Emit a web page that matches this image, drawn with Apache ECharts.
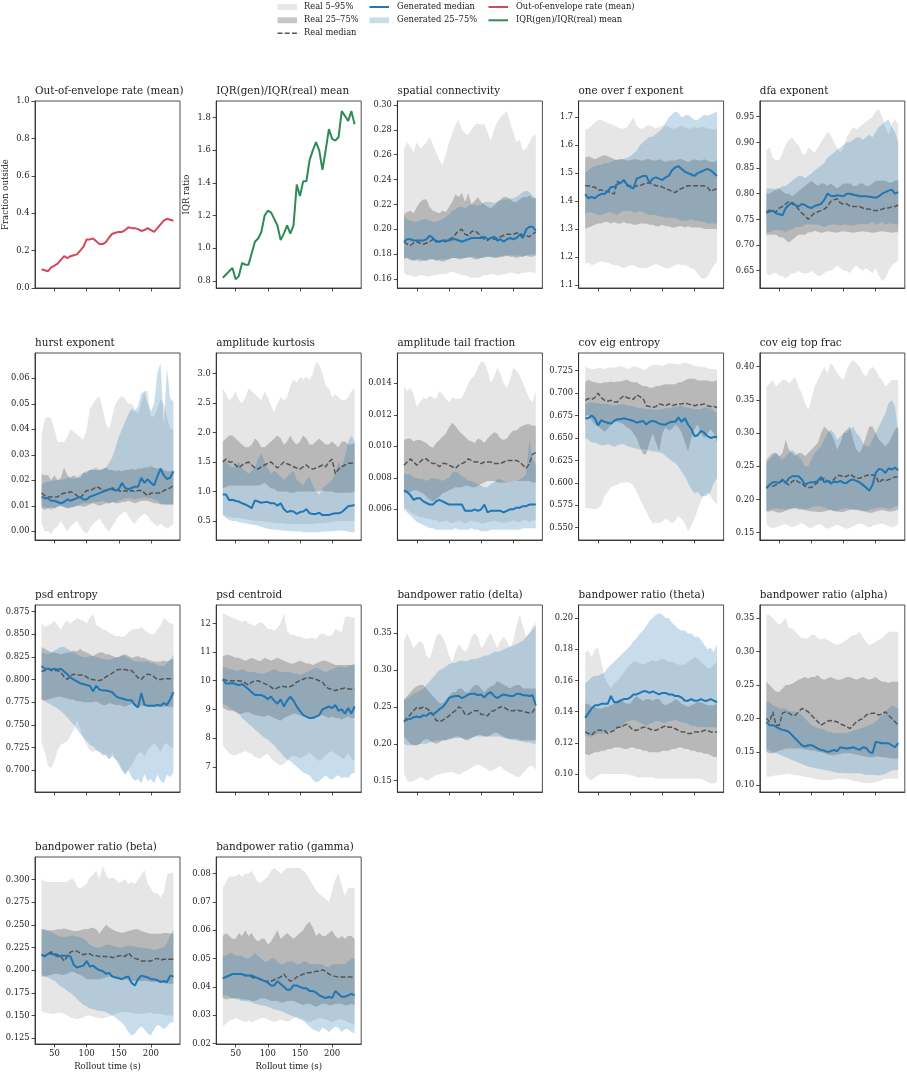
<!DOCTYPE html>
<html><head><meta charset="utf-8">
<script src="https://cdn.jsdelivr.net/npm/echarts@6/dist/echarts.min.js"></script>
<style>html,body{margin:0;padding:0;background:#fff}#c{width:907px;height:1074px}</style>
</head><body><div id="c"></div>
<script>
const times = [30,35,40,45,50,55,60, 65,70,75,80,85,90,95, 100,105,110,115,120,125,130, 135,140,145,150,155,160,165, 170,175,180,185,190,195,200, 205,210,215,220,225,230,235];
const xTicks = [50,100,150,200];

const outRate = [0.100,0.095,0.090,0.110,0.120,0.130,0.150, 0.170,0.160,0.170,0.175,0.180,0.200,0.220, 0.260,0.260,0.265,0.250,0.235,0.235,0.245, 0.270,0.290,0.295,0.300,0.300,0.310,0.325, 0.320,0.320,0.315,0.305,0.310,0.320,0.310, 0.300,0.320,0.340,0.360,0.370,0.365,0.360];
const iqrRatio = [0.82,0.84,0.86,0.88,0.81,0.83,0.91, 0.90,0.90,0.97,1.04,1.06,1.10,1.20, 1.23,1.22,1.18,1.14,1.05,1.09,1.14, 1.09,1.14,1.39,1.32,1.41,1.41,1.54, 1.60,1.65,1.60,1.48,1.60,1.73,1.67, 1.66,1.68,1.84,1.81,1.78,1.84,1.76];

// spatial connectivity
const sc_r05 = [.165,.163,.163,.162,.162,.163,.163, .162,.162,.163,.163,.164,.164,.164, .165,.166,.165,.164,.163,.163,.162, .161,.161,.161,.162,.163,.163,.164, .164,.163,.163,.164,.164,.165,.165, .164,.164,.165,.165,.166,.165,.165];
const sc_r25 = [.177,.177,.176,.175,.176,.176,.175, .175,.176,.176,.175,.175,.174,.175, .176,.177,.177,.176,.176,.177,.178, .177,.176,.176,.177,.178,.178,.178, .177,.177,.178,.178,.179,.178,.178, .177,.178,.178,.179,.178,.178,.179];
const sc_r50 = [.190,.188,.187,.189,.190,.189,.188, .189,.190,.192,.191,.190,.191,.190, .192,.193,.196,.199,.200,.196,.195, .198,.199,.197,.194,.192,.191,.193, .192,.193,.194,.195,.196,.196,.196, .197,.197,.195,.195,.194,.196,.198];
const sc_r75 = [.212,.214,.215,.213,.218,.222,.224, .224,.218,.215,.214,.213,.215,.214, .218,.222,.228,.226,.229,.222,.229, .220,.223,.226,.222,.220,.218,.217, .219,.222,.224,.226,.226,.224,.222, .222,.224,.226,.226,.227,.225,.225];
const sc_r95 = [.265,.270,.266,.262,.270,.265,.267, .270,.274,.268,.262,.256,.252,.260, .270,.277,.284,.288,.280,.277,.276, .280,.284,.285,.284,.285,.278,.271, .280,.286,.290,.293,.295,.286,.278, .270,.272,.263,.265,.270,.275,.276];
const sc_g25 = [.176,.177,.175,.175,.175,.174,.175, .175,.176,.176,.175,.176,.176,.176, .176,.177,.177,.177,.177,.177,.177, .178,.178,.177,.177,.177,.178,.178, .178,.178,.178,.179,.179,.179,.179, .179,.179,.178,.179,.180,.180,.180];
const sc_g50 = [.190,.192,.192,.191,.191,.191,.191, .192,.195,.193,.190,.190,.191,.191, .191,.192,.192,.191,.190,.191,.192, .193,.193,.193,.193,.194,.192,.193, .194,.191,.192,.190,.192,.193,.192, .193,.196,.193,.200,.202,.202,.199];
const sc_g75 = [.210,.208,.207,.206,.206,.207,.208, .208,.207,.206,.206,.207,.208,.210, .212,.215,.216,.218,.218,.217,.219, .220,.220,.219,.220,.222,.222,.222, .221,.222,.223,.224,.224,.225,.225, .226,.228,.230,.231,.230,.227,.225];

// one over f exponent
const of_r05 = [1.175,1.18,1.17,1.175,1.18,1.185,1.18, 1.18,1.175,1.17,1.17,1.165,1.16,1.165, 1.17,1.17,1.165,1.16,1.16,1.16,1.165, 1.17,1.175,1.17,1.165,1.16,1.16,1.165, 1.17,1.175,1.17,1.17,1.165,1.16,1.155, 1.14,1.125,1.12,1.13,1.15,1.17,1.18];
const of_r25 = [1.30,1.305,1.31,1.315,1.32,1.32,1.325, 1.325,1.32,1.325,1.32,1.32,1.325,1.32, 1.32,1.315,1.315,1.32,1.32,1.32,1.315, 1.315,1.31,1.31,1.315,1.31,1.31,1.305, 1.305,1.31,1.31,1.305,1.31,1.305,1.305, 1.305,1.305,1.30,1.30,1.30,1.30,1.30];
const of_r50 = [1.455,1.455,1.45,1.45,1.44,1.44,1.435, 1.435,1.43,1.425,1.47,1.465,1.475,1.455, 1.455,1.45,1.455,1.455,1.46,1.465,1.465, 1.46,1.455,1.455,1.45,1.445,1.44,1.435, 1.43,1.44,1.445,1.45,1.455,1.455,1.455, 1.455,1.455,1.455,1.45,1.435,1.44,1.445];
const of_r75 = [1.555,1.56,1.555,1.55,1.555,1.56,1.565, 1.56,1.555,1.55,1.545,1.55,1.55,1.545, 1.545,1.55,1.55,1.545,1.545,1.55,1.55, 1.545,1.545,1.55,1.545,1.54,1.545,1.545, 1.545,1.55,1.55,1.545,1.54,1.545,1.55, 1.545,1.545,1.55,1.545,1.54,1.54,1.545];
const of_r95 = [1.655,1.66,1.67,1.68,1.69,1.69,1.685, 1.68,1.675,1.67,1.665,1.66,1.66,1.665, 1.68,1.70,1.67,1.66,1.66,1.67,1.67, 1.665,1.66,1.665,1.67,1.67,1.665,1.66, 1.66,1.665,1.67,1.665,1.66,1.66,1.665, 1.66,1.665,1.665,1.66,1.66,1.655,1.66];
const of_g25 = [1.355,1.36,1.36,1.355,1.35,1.35,1.355, 1.36,1.36,1.355,1.35,1.36,1.365,1.365, 1.365,1.36,1.36,1.365,1.36,1.355,1.35, 1.35,1.35,1.345,1.345,1.34,1.34,1.34, 1.34,1.335,1.33,1.33,1.33,1.335,1.33, 1.33,1.325,1.325,1.32,1.32,1.32,1.32];
const of_g50 = [1.425,1.41,1.415,1.41,1.42,1.425,1.425, 1.435,1.45,1.45,1.46,1.465,1.475,1.46, 1.45,1.445,1.48,1.485,1.49,1.49,1.465, 1.48,1.485,1.48,1.475,1.485,1.49,1.51, 1.52,1.525,1.515,1.505,1.50,1.495,1.49, 1.50,1.505,1.51,1.515,1.51,1.50,1.49];
const of_g75 = [1.50,1.51,1.52,1.525,1.53,1.53,1.535, 1.535,1.54,1.545,1.55,1.55,1.55,1.555, 1.56,1.57,1.58,1.60,1.61,1.62,1.63, 1.63,1.64,1.65,1.66,1.68,1.70,1.71, 1.72,1.715,1.70,1.705,1.71,1.70,1.69, 1.69,1.70,1.71,1.705,1.71,1.715,1.72];

// dfa exponent
const dfa_r05 = [0.645,0.640,0.645,0.645,0.640,0.640,0.635, 0.640,0.645,0.645,0.650,0.645,0.645,0.645, 0.650,0.645,0.640,0.640,0.645,0.650,0.650, 0.655,0.660,0.655,0.650,0.650,0.645,0.655, 0.660,0.655,0.650,0.655,0.650,0.645,0.655, 0.640,0.630,0.635,0.650,0.660,0.665,0.670];
const dfa_r25 = [0.720,0.720,0.720,0.720,0.715,0.715,0.710, 0.705,0.710,0.715,0.720,0.720,0.720,0.725, 0.725,0.728,0.726,0.724,0.725,0.727,0.726, 0.725,0.724,0.726,0.727,0.726,0.725,0.724, 0.725,0.726,0.727,0.726,0.725,0.724,0.725, 0.726,0.727,0.726,0.725,0.724,0.725,0.725];
const dfa_r50 = [0.765,0.768,0.765,0.765,0.772,0.775,0.780, 0.785,0.780,0.777,0.770,0.762,0.757,0.750, 0.757,0.762,0.765,0.767,0.770,0.775,0.785, 0.788,0.790,0.782,0.780,0.780,0.776,0.775, 0.775,0.775,0.772,0.770,0.770,0.768,0.767, 0.768,0.770,0.772,0.772,0.775,0.775,0.778];
const dfa_r75 = [0.800,0.800,0.805,0.810,0.810,0.805,0.800, 0.800,0.795,0.800,0.805,0.810,0.815,0.820, 0.825,0.820,0.815,0.820,0.820,0.815,0.820, 0.815,0.810,0.815,0.820,0.820,0.820,0.815, 0.815,0.820,0.820,0.815,0.815,0.820,0.825, 0.825,0.825,0.825,0.822,0.822,0.825,0.826];
const dfa_r95 = [0.885,0.890,0.870,0.865,0.865,0.880,0.895, 0.905,0.910,0.900,0.895,0.880,0.875,0.890, 0.885,0.880,0.890,0.900,0.910,0.920,0.915, 0.900,0.890,0.880,0.890,0.910,0.920,0.930, 0.925,0.930,0.935,0.940,0.945,0.950,0.960, 0.965,0.950,0.930,0.915,0.935,0.945,0.935];
const dfa_g25 = [0.725,0.725,0.728,0.730,0.730,0.728,0.725, 0.730,0.730,0.735,0.735,0.735,0.740,0.740, 0.740,0.740,0.740,0.738,0.735,0.738,0.740, 0.740,0.740,0.738,0.740,0.740,0.738,0.738, 0.740,0.740,0.742,0.740,0.742,0.745,0.740, 0.742,0.745,0.740,0.742,0.742,0.740,0.740];
const dfa_g50 = [0.763,0.765,0.767,0.762,0.760,0.758,0.772, 0.778,0.783,0.778,0.775,0.780,0.778,0.774, 0.772,0.776,0.778,0.780,0.788,0.800,0.796, 0.795,0.797,0.796,0.795,0.800,0.800,0.798, 0.797,0.795,0.795,0.795,0.794,0.793,0.792, 0.795,0.800,0.803,0.806,0.808,0.800,0.803];
const dfa_g75 = [0.810,0.810,0.810,0.805,0.810,0.815,0.815, 0.820,0.825,0.830,0.835,0.835,0.830,0.835, 0.840,0.845,0.850,0.855,0.860,0.870,0.875, 0.880,0.885,0.890,0.895,0.900,0.900,0.905, 0.910,0.910,0.905,0.910,0.915,0.910,0.920, 0.930,0.935,0.940,0.945,0.930,0.920,0.900];

// hurst exponent
const hu_r05 = [0.003,0.000,0.000,-0.001,0.001,0.002,0.004, 0.002,0.000,0.002,0.003,0.004,0.002,0.000, -0.001,0.001,0.003,0.004,0.005,0.003,0.001, 0.000,0.002,0.004,0.006,0.007,0.008,0.006, 0.004,0.003,0.005,0.006,0.007,0.006,0.004, 0.003,0.002,0.003,0.002,0.001,0.002,0.003];
const hu_r25 = [0.009,0.0085,0.009,0.0095,0.009,0.0095,0.010, 0.0095,0.009,0.0095,0.0095,0.010,0.010,0.0095, 0.010,0.0105,0.011,0.0105,0.010,0.0105,0.011, 0.011,0.0115,0.011,0.011,0.0115,0.0115,0.012, 0.0115,0.011,0.0115,0.012,0.012,0.012,0.0115, 0.011,0.011,0.0105,0.0105,0.0105,0.0105,0.0105];
const hu_r50 = [0.015,0.014,0.0135,0.0135,0.0135,0.0135,0.0145, 0.015,0.015,0.0155,0.015,0.014,0.013,0.0145, 0.016,0.016,0.0165,0.0175,0.017,0.016,0.016, 0.016,0.017,0.0165,0.016,0.0155,0.016,0.0155, 0.016,0.0155,0.016,0.016,0.015,0.014,0.015, 0.015,0.015,0.015,0.016,0.0165,0.017,0.018];
const hu_r75 = [0.0225,0.022,0.022,0.020,0.022,0.020,0.021, 0.025,0.022,0.021,0.022,0.021,0.021,0.023, 0.023,0.024,0.024,0.024,0.024,0.0245,0.025, 0.024,0.024,0.0235,0.024,0.0235,0.024,0.024, 0.0245,0.024,0.0245,0.0245,0.025,0.025,0.0255, 0.025,0.0245,0.025,0.024,0.0235,0.0235,0.024];
const hu_r95 = [0.038,0.044,0.045,0.044,0.040,0.035,0.035, 0.035,0.037,0.040,0.039,0.038,0.037,0.036, 0.040,0.048,0.050,0.052,0.053,0.048,0.042, 0.040,0.045,0.050,0.052,0.053,0.052,0.050, 0.050,0.048,0.046,0.050,0.055,0.055,0.045, 0.045,0.048,0.052,0.050,0.045,0.040,0.040];
const hu_g25 = [0.010,0.0095,0.009,0.0085,0.009,0.010,0.010, 0.0095,0.009,0.009,0.0095,0.010,0.0105,0.011, 0.011,0.011,0.0115,0.0115,0.0115,0.012,0.0115, 0.011,0.0115,0.0115,0.012,0.0125,0.013,0.013, 0.013,0.0125,0.013,0.013,0.0135,0.013,0.013, 0.0125,0.012,0.011,0.0105,0.0105,0.0105,0.0105];
const hu_g50 = [0.0135,0.013,0.013,0.012,0.012,0.0115,0.011, 0.0115,0.0125,0.012,0.0125,0.013,0.0135,0.0125, 0.0125,0.0135,0.014,0.0145,0.015,0.0155,0.016, 0.0165,0.0165,0.016,0.0165,0.019,0.017,0.0165, 0.017,0.0175,0.0175,0.021,0.019,0.0205,0.019, 0.018,0.0215,0.0245,0.022,0.0205,0.021,0.0235];
const hu_g75 = [0.0185,0.019,0.0195,0.0195,0.020,0.020,0.020, 0.0205,0.021,0.021,0.0205,0.021,0.022,0.023, 0.0235,0.024,0.0245,0.025,0.024,0.024,0.025, 0.027,0.029,0.033,0.037,0.040,0.043,0.046, 0.048,0.047,0.049,0.054,0.055,0.050,0.047, 0.050,0.062,0.066,0.042,0.064,0.052,0.051];

// amplitude kurtosis
const ak_r05 = [0.60,0.58,0.57,0.56,0.55,0.55,0.54, 0.53,0.52,0.52,0.50,0.50,0.50,0.49, 0.48,0.48,0.47,0.46,0.46,0.46,0.45, 0.45,0.45,0.45,0.45,0.45,0.45,0.45, 0.45,0.46,0.46,0.46,0.47,0.48,0.48, 0.49,0.50,0.50,0.50,0.50,0.50,0.50];
const ak_r25 = [1.05,1.08,1.10,1.10,1.10,1.10,1.10, 1.10,1.10,1.10,1.10,1.10,1.12,1.15, 1.10,1.05,1.05,1.00,1.00,1.00,1.00, 0.98,0.98,1.00,1.00,1.00,1.00,1.00, 1.00,1.00,1.00,1.02,1.00,1.00,1.00, 0.98,0.98,0.98,0.98,0.98,0.98,1.00];
const ak_r50 = [1.50,1.55,1.50,1.50,1.45,1.40,1.45, 1.48,1.50,1.45,1.40,1.38,1.42,1.45, 1.48,1.50,1.45,1.40,1.45,1.50,1.47, 1.45,1.42,1.40,1.38,1.42,1.45,1.40, 1.38,1.40,1.42,1.45,1.42,1.50,1.55, 1.30,1.38,1.42,1.45,1.48,1.48,1.48];
const ak_r75 = [1.85,1.90,1.95,1.95,1.90,1.85,1.80, 1.75,1.75,1.80,1.90,1.85,1.75,1.75, 1.80,1.85,1.90,1.95,1.90,1.80,1.85, 1.95,1.85,1.80,1.85,1.95,1.90,1.80, 1.80,1.85,1.90,1.85,1.80,1.80,1.85, 1.80,1.75,1.85,1.85,1.80,1.80,1.82];
const ak_r95 = [2.75,2.65,2.55,2.60,2.70,2.55,2.50, 2.60,2.75,2.70,2.65,2.60,2.55,2.70, 2.60,2.45,2.35,2.50,2.60,2.55,2.60, 2.80,2.90,2.85,2.95,2.90,2.95,2.90, 3.00,3.20,3.15,3.00,2.80,2.75,2.60, 2.65,2.60,2.55,2.55,2.60,2.70,2.75];
const ak_g25 = [0.60,0.55,0.52,0.50,0.50,0.48,0.47, 0.46,0.45,0.44,0.43,0.42,0.40,0.38, 0.37,0.36,0.35,0.35,0.34,0.34,0.33, 0.33,0.32,0.32,0.32,0.31,0.31,0.31, 0.31,0.31,0.31,0.32,0.32,0.32,0.33, 0.33,0.34,0.34,0.33,0.32,0.31,0.31];
const ak_g50 = [0.95,0.95,0.85,0.86,0.84,0.83,0.80, 0.78,0.75,0.72,0.85,0.83,0.81,0.82, 0.82,0.80,0.80,0.76,0.80,0.70,0.65, 0.67,0.66,0.62,0.65,0.66,0.70,0.63, 0.62,0.62,0.64,0.60,0.60,0.60,0.62, 0.63,0.63,0.65,0.70,0.75,0.76,0.77];
const ak_g75 = [1.55,1.50,1.45,1.40,1.45,1.50,1.40, 1.35,1.30,1.35,1.40,1.55,1.65,1.50, 1.40,1.30,1.35,1.30,1.25,1.20,1.25, 1.30,1.35,1.20,1.15,1.10,1.20,1.25, 1.10,1.00,0.95,1.05,1.10,1.15,1.20, 1.30,1.50,1.40,1.60,1.85,1.95,1.85];

// amplitude tail fraction
const at_r05 = [0.0061,0.0060,0.0058,0.0057,0.0056,0.0055,0.0055, 0.0054,0.0054,0.0053,0.0053,0.0052,0.0052,0.0053, 0.0052,0.0051,0.0052,0.0053,0.0052,0.0051,0.0052, 0.0053,0.0052,0.0052,0.0051,0.0051,0.0052,0.0052, 0.0053,0.0052,0.0052,0.0051,0.0052,0.0052,0.0053, 0.0052,0.0052,0.0053,0.0053,0.0052,0.0053,0.0053];
const at_r25 = [0.0070,0.0070,0.0071,0.0072,0.0072,0.0071,0.0070, 0.0068,0.0066,0.0065,0.0066,0.0068,0.0070,0.0071, 0.0072,0.0073,0.0074,0.0074,0.0074,0.0075,0.0075, 0.0074,0.0074,0.0075,0.0076,0.0077,0.0078,0.0078, 0.0078,0.0077,0.0077,0.0077,0.0077,0.0077,0.0078, 0.0078,0.0078,0.0078,0.0078,0.0078,0.0077,0.0077];
const at_r50 = [0.0088,0.0090,0.0092,0.0090,0.0088,0.0090,0.0092, 0.0092,0.0090,0.0089,0.0089,0.0087,0.0089,0.0089, 0.0088,0.0087,0.0086,0.0088,0.0089,0.0090,0.0092, 0.0091,0.0090,0.0090,0.0089,0.0090,0.0090,0.0090, 0.0089,0.0089,0.0089,0.0090,0.0091,0.0091,0.0091, 0.0091,0.0090,0.0088,0.0086,0.0089,0.0095,0.0096];
const at_r75 = [0.0104,0.0105,0.0105,0.0103,0.0104,0.0104,0.0103, 0.0102,0.0100,0.0099,0.0102,0.0104,0.0106,0.0108, 0.0112,0.0115,0.0113,0.0110,0.0108,0.0106,0.0104, 0.0103,0.0102,0.0105,0.0104,0.0102,0.0105,0.0107, 0.0109,0.0108,0.0105,0.0104,0.0105,0.0108,0.0110, 0.0110,0.0112,0.0113,0.0114,0.0114,0.0113,0.0113];
const at_r95 = [0.0138,0.0135,0.0137,0.0133,0.0125,0.0128,0.0131, 0.0130,0.0132,0.0131,0.0130,0.0135,0.0133,0.0130, 0.0128,0.0131,0.0130,0.0130,0.0131,0.0135,0.0140, 0.0143,0.0145,0.0150,0.0154,0.0153,0.0148,0.0140, 0.0144,0.0150,0.0146,0.0140,0.0137,0.0142,0.0150, 0.0148,0.0145,0.0140,0.0135,0.0130,0.0128,0.0135];
const at_g25 = [0.0060,0.0058,0.0056,0.0054,0.0052,0.0051,0.0050, 0.0049,0.0048,0.0048,0.0047,0.0047,0.0047,0.0047, 0.0047,0.0047,0.0048,0.0047,0.0047,0.0047,0.0047, 0.0048,0.0047,0.0047,0.0046,0.0046,0.0046,0.0047, 0.0047,0.0047,0.0047,0.0047,0.0047,0.0047,0.0047, 0.0047,0.0047,0.0048,0.0048,0.0048,0.0048,0.0048];
const at_g50 = [0.0072,0.0071,0.0069,0.0066,0.0067,0.0067,0.0065, 0.0064,0.0063,0.0063,0.0065,0.0066,0.0065,0.0064, 0.0063,0.0063,0.0063,0.0063,0.0063,0.0059,0.0059, 0.0059,0.0060,0.0059,0.0060,0.0063,0.0058,0.0059, 0.0059,0.0059,0.0059,0.0058,0.0059,0.0060,0.0060, 0.0061,0.0061,0.0062,0.0062,0.0063,0.0063,0.0063];
const at_g75 = [0.0083,0.0082,0.0082,0.0080,0.0080,0.0079,0.0079, 0.0078,0.0079,0.0080,0.0079,0.0079,0.0078,0.0079, 0.0080,0.0083,0.0084,0.0083,0.0081,0.0080,0.0078, 0.0078,0.0077,0.0076,0.0075,0.0074,0.0074,0.0076, 0.0077,0.0079,0.0079,0.0078,0.0077,0.0077,0.0078, 0.0078,0.0079,0.0080,0.0082,0.0104,0.0092,0.0088];

// cov eig entropy
const ce_r05 = [0.572,0.572,0.571,0.570,0.572,0.575,0.585, 0.590,0.595,0.597,0.598,0.600,0.600,0.601, 0.600,0.597,0.590,0.582,0.575,0.568,0.560, 0.555,0.556,0.555,0.557,0.560,0.558,0.555, 0.558,0.563,0.560,0.555,0.546,0.552,0.560,0.570, 0.580,0.586,0.590,0.585,0.580,0.576];
const ce_r25 = [0.674,0.676,0.670,0.665,0.663,0.660,0.657, 0.660,0.665,0.668,0.668,0.667,0.665,0.662, 0.660,0.655,0.650,0.640,0.632,0.632,0.645, 0.655,0.645,0.635,0.655,0.662,0.658,0.660, 0.665,0.662,0.656,0.645,0.635,0.650,0.660, 0.665,0.655,0.650,0.655,0.660,0.655,0.645];
const ce_r50 = [0.692,0.694,0.693,0.695,0.700,0.695,0.692, 0.691,0.692,0.690,0.690,0.694,0.697,0.695, 0.694,0.693,0.698,0.696,0.694,0.686,0.685, 0.684,0.685,0.688,0.687,0.686,0.688,0.686, 0.687,0.688,0.688,0.689,0.688,0.687,0.686, 0.687,0.687,0.688,0.686,0.685,0.685,0.684];
const ce_r75 = [0.712,0.715,0.713,0.712,0.711,0.711,0.712, 0.712,0.713,0.712,0.713,0.713,0.714,0.715, 0.713,0.712,0.712,0.710,0.708,0.708,0.706, 0.706,0.708,0.708,0.709,0.710,0.710,0.710, 0.710,0.712,0.712,0.714,0.716,0.716,0.716, 0.714,0.714,0.714,0.714,0.713,0.713,0.714];
const ce_r95 = [0.730,0.728,0.727,0.727,0.728,0.728,0.727, 0.728,0.729,0.728,0.729,0.730,0.729,0.727, 0.728,0.730,0.729,0.728,0.726,0.727,0.730, 0.731,0.732,0.731,0.730,0.732,0.733,0.733, 0.733,0.732,0.733,0.734,0.733,0.732,0.730, 0.730,0.729,0.729,0.728,0.727,0.727,0.726];
const ce_g25 = [0.650,0.648,0.645,0.645,0.643,0.642,0.642, 0.643,0.642,0.640,0.642,0.643,0.643,0.641, 0.640,0.639,0.638,0.637,0.638,0.637,0.636, 0.635,0.635,0.634,0.633,0.630,0.627,0.624, 0.622,0.618,0.612,0.607,0.600,0.593,0.588, 0.590,0.585,0.585,0.586,0.590,0.600,0.605];
const ce_g50 = [0.672,0.672,0.675,0.672,0.664,0.670,0.668, 0.667,0.666,0.669,0.671,0.671,0.672,0.671, 0.670,0.669,0.667,0.668,0.669,0.665,0.668, 0.669,0.668,0.666,0.665,0.665,0.667,0.668, 0.668,0.673,0.668,0.672,0.665,0.660,0.652, 0.653,0.658,0.656,0.652,0.650,0.651,0.651];
const ce_g75 = [0.688,0.689,0.690,0.689,0.689,0.688,0.688, 0.688,0.687,0.686,0.687,0.688,0.688,0.686, 0.686,0.685,0.684,0.683,0.683,0.682,0.682, 0.682,0.681,0.682,0.682,0.683,0.683,0.684, 0.685,0.685,0.686,0.684,0.684,0.683,0.682, 0.682,0.682,0.684,0.684,0.683,0.680,0.678];

// cov eig top frac
const ct_r05 = [0.163,0.158,0.157,0.158,0.160,0.162,0.163, 0.160,0.158,0.160,0.162,0.165,0.162,0.158, 0.157,0.160,0.162,0.163,0.158,0.156,0.158, 0.160,0.162,0.160,0.158,0.156,0.157,0.160, 0.162,0.164,0.163,0.160,0.158,0.160,0.162, 0.163,0.164,0.162,0.160,0.158,0.160,0.163];
const ct_r25 = [0.182,0.182,0.183,0.181,0.180,0.181,0.183, 0.185,0.186,0.187,0.185,0.185,0.184,0.183, 0.182,0.182,0.181,0.181,0.182,0.183,0.184, 0.183,0.182,0.181,0.181,0.183,0.184,0.185, 0.185,0.184,0.183,0.181,0.180,0.180,0.182, 0.183,0.184,0.183,0.182,0.182,0.183,0.185];
const ct_r50 = [0.218,0.222,0.220,0.222,0.226,0.228,0.225, 0.222,0.227,0.230,0.226,0.225,0.220,0.218, 0.218,0.222,0.226,0.230,0.232,0.228,0.227, 0.230,0.236,0.236,0.234,0.235,0.238,0.235, 0.232,0.232,0.234,0.236,0.237,0.237,0.236, 0.225,0.230,0.228,0.230,0.232,0.234,0.234];
const ct_r75 = [0.260,0.265,0.270,0.270,0.265,0.270,0.290, 0.275,0.270,0.265,0.270,0.270,0.265,0.270, 0.275,0.280,0.285,0.300,0.310,0.305,0.300, 0.290,0.275,0.285,0.300,0.305,0.310,0.290, 0.275,0.270,0.280,0.295,0.310,0.310,0.300, 0.290,0.285,0.280,0.285,0.295,0.305,0.310];
const ct_r95 = [0.370,0.375,0.380,0.370,0.375,0.380,0.380, 0.375,0.380,0.385,0.370,0.360,0.345,0.335, 0.350,0.370,0.380,0.390,0.400,0.390,0.405, 0.400,0.390,0.385,0.380,0.395,0.405,0.410, 0.405,0.400,0.390,0.385,0.395,0.400,0.395, 0.385,0.380,0.370,0.375,0.380,0.380,0.380];
const ct_g25 = [0.183,0.185,0.186,0.187,0.186,0.186,0.185, 0.186,0.187,0.188,0.187,0.186,0.185,0.186, 0.188,0.190,0.190,0.189,0.188,0.186,0.184, 0.182,0.183,0.185,0.186,0.187,0.186,0.185, 0.184,0.183,0.182,0.183,0.184,0.186,0.187, 0.188,0.188,0.187,0.186,0.187,0.190,0.190];
const ct_g50 = [0.217,0.222,0.226,0.226,0.225,0.230,0.225, 0.232,0.235,0.235,0.235,0.230,0.222,0.225, 0.226,0.226,0.228,0.234,0.226,0.228,0.224, 0.227,0.226,0.228,0.225,0.225,0.229,0.230, 0.228,0.226,0.222,0.218,0.213,0.222,0.240, 0.246,0.245,0.240,0.247,0.245,0.248,0.244];
const ct_g75 = [0.255,0.260,0.265,0.270,0.265,0.260,0.265, 0.270,0.275,0.270,0.265,0.260,0.250,0.250, 0.260,0.270,0.275,0.280,0.290,0.300,0.305, 0.300,0.290,0.295,0.300,0.300,0.305,0.310, 0.300,0.295,0.285,0.280,0.280,0.290,0.300, 0.310,0.320,0.330,0.345,0.350,0.340,0.300];

// psd entropy
const pe_r05 = [0.730,0.720,0.705,0.702,0.710,0.722,0.728, 0.730,0.732,0.738,0.745,0.755,0.745,0.735, 0.728,0.722,0.720,0.722,0.720,0.715,0.718, 0.712,0.720,0.712,0.705,0.700,0.695,0.700, 0.705,0.712,0.718,0.720,0.715,0.722,0.726, 0.730,0.726,0.720,0.728,0.730,0.725,0.725];
const pe_r25 = [0.778,0.777,0.778,0.779,0.780,0.781,0.781, 0.780,0.779,0.778,0.778,0.776,0.776,0.775, 0.775,0.775,0.775,0.776,0.774,0.772,0.772, 0.774,0.773,0.772,0.772,0.771,0.770,0.772, 0.773,0.772,0.770,0.771,0.771,0.771,0.770, 0.770,0.770,0.770,0.770,0.770,0.770,0.770];
const pe_r50 = [0.809,0.810,0.812,0.810,0.810,0.810,0.808, 0.803,0.800,0.804,0.806,0.805,0.805,0.805, 0.803,0.800,0.800,0.799,0.799,0.800,0.803, 0.805,0.807,0.810,0.811,0.811,0.811,0.810, 0.810,0.806,0.802,0.800,0.804,0.806,0.805, 0.803,0.800,0.800,0.801,0.801,0.801,0.801];
const pe_r75 = [0.836,0.834,0.832,0.830,0.830,0.829,0.828, 0.829,0.830,0.830,0.832,0.831,0.834,0.831, 0.830,0.828,0.826,0.828,0.830,0.830,0.828, 0.828,0.826,0.825,0.825,0.827,0.828,0.826, 0.824,0.825,0.826,0.824,0.824,0.822,0.821, 0.820,0.820,0.820,0.821,0.820,0.822,0.823];
const pe_r95 = [0.862,0.858,0.860,0.862,0.865,0.860,0.855, 0.862,0.865,0.862,0.865,0.868,0.866,0.865, 0.862,0.868,0.873,0.860,0.858,0.855,0.855, 0.852,0.850,0.848,0.848,0.847,0.848,0.852, 0.855,0.856,0.856,0.858,0.855,0.852,0.850, 0.850,0.855,0.860,0.868,0.865,0.862,0.862];
const pe_g25 = [0.778,0.776,0.774,0.772,0.770,0.768,0.765, 0.762,0.758,0.754,0.750,0.745,0.740,0.736, 0.732,0.728,0.726,0.722,0.720,0.718,0.716, 0.712,0.715,0.712,0.708,0.700,0.695,0.700, 0.692,0.688,0.690,0.685,0.695,0.688,0.690, 0.685,0.695,0.688,0.685,0.695,0.692,0.697];
const pe_g50 = [0.815,0.812,0.812,0.811,0.812,0.811,0.812, 0.809,0.806,0.802,0.800,0.798,0.796,0.795, 0.794,0.793,0.787,0.793,0.789,0.788,0.788, 0.787,0.786,0.782,0.780,0.779,0.778,0.777, 0.777,0.772,0.769,0.785,0.772,0.771,0.771, 0.771,0.772,0.771,0.774,0.772,0.778,0.786];
const pe_g75 = [0.830,0.829,0.828,0.830,0.832,0.834,0.836, 0.836,0.834,0.832,0.830,0.828,0.826,0.825, 0.825,0.826,0.826,0.825,0.824,0.823,0.822, 0.822,0.823,0.824,0.825,0.826,0.826,0.824, 0.822,0.820,0.820,0.820,0.820,0.820,0.818, 0.818,0.816,0.815,0.815,0.818,0.822,0.828];

// psd centroid
const pc_r05 = [7.75,7.60,7.45,7.40,7.40,7.45,7.50, 7.55,7.50,7.45,7.35,7.30,7.30,7.40, 7.45,7.30,7.20,7.10,7.05,7.10,7.20, 7.35,7.40,7.35,7.30,7.35,7.40,7.50, 7.40,7.30,7.20,7.30,7.40,7.50,7.55, 7.45,7.40,7.30,7.30,7.50,7.30,7.20];
const pc_r25 = [9.05,9.00,8.95,8.95,8.90,8.85,8.85, 8.90,8.90,8.85,8.80,8.80,8.75,8.75, 8.80,8.75,8.70,8.65,8.60,8.70,8.75, 8.80,8.85,8.85,8.80,8.80,8.75,8.75, 8.70,8.75,8.80,8.80,8.75,8.70,8.75, 8.70,8.70,8.65,8.70,8.75,8.70,8.70];
const pc_r50 = [10.05,10.02,10.00,10.00,10.00,10.00,9.98, 9.92,9.85,9.95,10.00,10.00,9.95,9.90, 9.85,9.78,9.70,9.75,9.80,9.80,9.78, 9.80,9.85,9.95,10.00,10.05,10.10,10.10, 10.08,10.05,10.00,9.95,9.80,9.72,9.70, 9.65,9.70,9.72,9.75,9.72,9.70,9.70];
const pc_r75 = [10.85,10.90,10.90,10.85,10.80,10.80,10.75, 10.70,10.75,10.80,10.75,10.70,10.70,10.80, 10.75,10.70,10.75,10.80,10.75,10.70,10.65, 10.60,10.60,10.65,10.70,10.65,10.60,10.60, 10.55,10.60,10.65,10.70,10.70,10.65,10.60, 10.55,10.55,10.55,10.55,10.55,10.55,10.55];
const pc_r95 = [12.35,12.30,12.25,12.20,12.15,12.10,12.05, 12.10,12.00,11.95,11.90,12.00,12.05,11.95, 11.80,11.80,11.75,11.85,12.00,12.35,11.75, 11.60,11.60,11.55,11.55,11.50,11.45,11.50, 11.50,11.45,11.60,11.65,11.60,11.55,11.60, 11.80,11.75,11.70,12.20,12.25,12.20,12.20];
const pc_g25 = [9.20,9.15,9.05,9.00,8.95,8.85,8.70, 8.60,8.50,8.40,8.30,8.20,8.10,8.00, 7.95,7.85,7.75,7.60,7.50,7.35,7.25, 7.20,7.10,7.00,6.90,6.80,6.75,6.70, 6.55,6.45,6.50,6.60,6.70,6.60,6.55, 6.65,6.70,6.60,6.65,6.60,6.75,6.80];
const pc_g50 = [10.05,9.90,9.90,9.92,9.88,9.85,9.88, 9.80,9.70,9.60,9.50,9.50,9.50,9.45, 9.35,9.45,9.30,9.20,9.35,9.10,9.30, 9.45,9.30,9.10,8.95,8.80,8.75,8.70, 8.70,8.75,8.80,9.00,9.05,9.10,9.05, 9.15,8.95,9.00,8.85,9.05,8.85,9.10];
const pc_g75 = [10.50,10.45,10.40,10.40,10.35,10.35,10.40, 10.35,10.30,10.30,10.30,10.25,10.25,10.25, 10.30,10.35,10.40,10.35,10.30,10.30,10.30, 10.30,10.25,10.25,10.20,10.25,10.30,10.35, 10.40,10.45,10.40,10.35,10.30,10.35,10.40, 10.45,10.50,10.50,10.45,10.50,10.55,10.60];

// bandpower ratio (delta)
const bd_r05 = [0.160,0.150,0.148,0.150,0.152,0.155,0.153, 0.150,0.152,0.155,0.158,0.158,0.160,0.160, 0.162,0.162,0.160,0.158,0.160,0.163,0.165, 0.168,0.170,0.172,0.170,0.168,0.165,0.163, 0.165,0.168,0.170,0.165,0.163,0.160,0.158, 0.155,0.155,0.160,0.165,0.170,0.170,0.165];
const bd_r25 = [0.210,0.205,0.200,0.198,0.198,0.200,0.205, 0.207,0.205,0.202,0.200,0.202,0.205,0.205, 0.207,0.208,0.210,0.210,0.208,0.205,0.205, 0.208,0.210,0.212,0.212,0.210,0.210,0.212, 0.215,0.215,0.212,0.210,0.208,0.207,0.207, 0.207,0.205,0.205,0.205,0.205,0.205,0.205];
const bd_r50 = [0.230,0.235,0.240,0.245,0.250,0.248,0.250, 0.248,0.245,0.240,0.232,0.230,0.232,0.235, 0.238,0.242,0.245,0.250,0.248,0.240,0.240, 0.243,0.245,0.245,0.240,0.240,0.238,0.244, 0.245,0.248,0.250,0.250,0.247,0.245,0.245, 0.246,0.245,0.244,0.243,0.242,0.243,0.250];
const bd_r75 = [0.260,0.265,0.270,0.275,0.278,0.280,0.280, 0.275,0.270,0.265,0.260,0.255,0.255,0.260, 0.265,0.270,0.270,0.275,0.275,0.270,0.270, 0.275,0.280,0.280,0.275,0.270,0.275,0.278, 0.280,0.285,0.283,0.280,0.278,0.275,0.278, 0.280,0.280,0.275,0.275,0.275,0.275,0.275];
const bd_r95 = [0.340,0.350,0.340,0.330,0.335,0.340,0.335, 0.320,0.315,0.330,0.345,0.350,0.345,0.335, 0.320,0.310,0.325,0.335,0.330,0.325,0.330, 0.345,0.350,0.345,0.330,0.335,0.345,0.350, 0.340,0.330,0.340,0.345,0.340,0.330,0.340, 0.360,0.375,0.360,0.345,0.350,0.360,0.365];
const bd_g25 = [0.200,0.198,0.198,0.198,0.198,0.200,0.200, 0.200,0.202,0.203,0.205,0.205,0.205,0.205, 0.206,0.207,0.208,0.208,0.208,0.207,0.207, 0.208,0.210,0.210,0.210,0.210,0.210,0.210, 0.210,0.210,0.210,0.208,0.207,0.206,0.205, 0.205,0.204,0.203,0.202,0.202,0.200,0.200];
const bd_g50 = [0.231,0.233,0.234,0.236,0.237,0.236,0.239, 0.238,0.242,0.240,0.243,0.247,0.250,0.255, 0.262,0.264,0.265,0.265,0.262,0.264,0.267, 0.268,0.268,0.266,0.267,0.263,0.268,0.270, 0.265,0.262,0.265,0.267,0.266,0.265,0.265, 0.268,0.268,0.266,0.266,0.265,0.266,0.252];
const bd_g75 = [0.260,0.262,0.265,0.268,0.270,0.272,0.275, 0.280,0.285,0.290,0.295,0.300,0.302,0.305, 0.308,0.310,0.310,0.312,0.313,0.312,0.313, 0.315,0.315,0.316,0.318,0.320,0.320,0.322, 0.325,0.325,0.326,0.328,0.330,0.332,0.333, 0.335,0.338,0.340,0.345,0.350,0.355,0.360];

// bandpower ratio (theta)
const bt_r05 = [0.100,0.097,0.096,0.098,0.099,0.100,0.100, 0.100,0.100,0.100,0.100,0.100,0.100,0.100, 0.099,0.099,0.098,0.098,0.098,0.098,0.098, 0.098,0.097,0.097,0.097,0.097,0.097,0.097, 0.097,0.097,0.097,0.097,0.097,0.097,0.097, 0.097,0.097,0.096,0.095,0.094,0.094,0.095];
const bt_r25 = [0.113,0.112,0.113,0.114,0.114,0.115,0.115, 0.116,0.116,0.117,0.117,0.117,0.116,0.116, 0.117,0.117,0.116,0.116,0.115,0.115,0.114, 0.114,0.114,0.114,0.115,0.115,0.115,0.116, 0.116,0.117,0.117,0.116,0.116,0.115,0.115, 0.114,0.114,0.113,0.113,0.112,0.111,0.111];
const bt_r50 = [0.127,0.126,0.125,0.127,0.128,0.128,0.128, 0.126,0.127,0.128,0.130,0.130,0.131,0.132, 0.130,0.128,0.128,0.129,0.130,0.130,0.129, 0.128,0.128,0.129,0.130,0.131,0.130,0.130, 0.129,0.128,0.127,0.127,0.126,0.126,0.127, 0.127,0.127,0.128,0.128,0.127,0.127,0.127];
const bt_r75 = [0.145,0.145,0.143,0.143,0.142,0.142,0.143, 0.143,0.144,0.145,0.147,0.148,0.146,0.145, 0.145,0.148,0.150,0.148,0.147,0.148,0.148, 0.147,0.148,0.148,0.145,0.144,0.145,0.146, 0.148,0.147,0.145,0.144,0.143,0.144,0.145, 0.146,0.146,0.145,0.144,0.144,0.144,0.145];
const bt_r95 = [0.178,0.179,0.175,0.180,0.181,0.172,0.162, 0.158,0.155,0.158,0.160,0.162,0.165,0.168, 0.170,0.172,0.172,0.171,0.170,0.171,0.172, 0.173,0.172,0.173,0.174,0.173,0.172,0.172, 0.171,0.170,0.170,0.170,0.172,0.173,0.175, 0.174,0.172,0.170,0.168,0.168,0.170,0.172];
const bt_g25 = [0.125,0.124,0.124,0.125,0.126,0.126,0.126, 0.127,0.128,0.128,0.129,0.130,0.132,0.134, 0.134,0.135,0.134,0.133,0.132,0.131,0.132, 0.133,0.134,0.134,0.133,0.133,0.134,0.134, 0.135,0.134,0.133,0.133,0.132,0.131,0.131, 0.130,0.130,0.130,0.130,0.130,0.130,0.130];
const bt_g50 = [0.136,0.139,0.142,0.144,0.144,0.145,0.145, 0.145,0.150,0.146,0.146,0.147,0.148,0.148, 0.149,0.151,0.151,0.152,0.153,0.153,0.152, 0.153,0.152,0.151,0.152,0.152,0.151,0.151, 0.150,0.150,0.149,0.147,0.147,0.148,0.147, 0.147,0.148,0.147,0.147,0.148,0.147,0.146];
const bt_g75 = [0.158,0.160,0.162,0.163,0.163,0.164,0.165, 0.168,0.170,0.172,0.174,0.176,0.178,0.180, 0.182,0.185,0.187,0.190,0.192,0.195,0.198, 0.200,0.202,0.203,0.202,0.200,0.200,0.197, 0.195,0.193,0.192,0.192,0.190,0.190,0.188, 0.188,0.186,0.183,0.180,0.181,0.178,0.183];

// bandpower ratio (alpha)
const ba_r05 = [0.113,0.113,0.114,0.115,0.115,0.116,0.117, 0.117,0.116,0.115,0.115,0.114,0.113,0.112, 0.111,0.110,0.109,0.108,0.108,0.108,0.108, 0.109,0.110,0.110,0.110,0.109,0.108,0.107, 0.106,0.105,0.104,0.103,0.103,0.104,0.105, 0.106,0.108,0.110,0.110,0.110,0.110,0.110];
const ba_r25 = [0.150,0.148,0.148,0.150,0.152,0.153,0.155, 0.155,0.155,0.155,0.155,0.155,0.154,0.153, 0.152,0.152,0.150,0.150,0.148,0.146,0.145, 0.145,0.146,0.147,0.148,0.148,0.148,0.147, 0.146,0.145,0.144,0.143,0.142,0.142,0.143, 0.143,0.142,0.142,0.141,0.140,0.140,0.140];
const ba_r50 = [0.200,0.195,0.210,0.190,0.190,0.208,0.210, 0.208,0.205,0.205,0.210,0.215,0.213,0.210, 0.205,0.200,0.195,0.190,0.193,0.196,0.197, 0.196,0.195,0.192,0.190,0.188,0.185,0.190, 0.195,0.198,0.200,0.205,0.207,0.208,0.208, 0.205,0.207,0.210,0.205,0.200,0.195,0.190];
const ba_r75 = [0.255,0.250,0.245,0.240,0.240,0.245,0.250, 0.250,0.252,0.255,0.258,0.260,0.262,0.260, 0.262,0.262,0.265,0.260,0.258,0.260,0.262, 0.260,0.258,0.258,0.260,0.262,0.262,0.260, 0.258,0.260,0.262,0.260,0.258,0.260,0.262, 0.258,0.255,0.255,0.253,0.255,0.255,0.255];
const ba_r95 = [0.355,0.355,0.350,0.345,0.340,0.345,0.350, 0.335,0.335,0.330,0.325,0.320,0.320,0.320, 0.325,0.325,0.320,0.318,0.320,0.318,0.315, 0.312,0.310,0.312,0.315,0.318,0.322,0.325, 0.325,0.330,0.322,0.315,0.310,0.312,0.315, 0.318,0.320,0.325,0.330,0.330,0.330,0.330];
const ba_g25 = [0.155,0.152,0.150,0.148,0.146,0.144,0.142, 0.140,0.138,0.136,0.134,0.132,0.130,0.128, 0.127,0.126,0.125,0.124,0.123,0.122,0.121, 0.120,0.119,0.119,0.118,0.118,0.118,0.118, 0.118,0.118,0.117,0.116,0.116,0.116,0.115, 0.115,0.116,0.117,0.120,0.122,0.123,0.123];
const ba_g50 = [0.195,0.190,0.190,0.188,0.185,0.183,0.182, 0.180,0.175,0.170,0.165,0.160,0.158,0.160, 0.160,0.158,0.155,0.153,0.152,0.150,0.151, 0.153,0.151,0.157,0.156,0.155,0.156,0.157, 0.155,0.153,0.157,0.156,0.150,0.148,0.165, 0.164,0.163,0.163,0.163,0.160,0.157,0.163];
const ba_g75 = [0.225,0.225,0.220,0.218,0.215,0.215,0.215, 0.212,0.210,0.210,0.208,0.205,0.200,0.195, 0.190,0.188,0.185,0.185,0.183,0.180,0.180, 0.178,0.178,0.178,0.178,0.178,0.180,0.182, 0.183,0.185,0.186,0.188,0.190,0.192,0.195, 0.200,0.205,0.210,0.215,0.220,0.218,0.215];

// bandpower ratio (beta)
const bb_r05 = [0.155,0.153,0.153,0.152,0.152,0.153,0.153, 0.152,0.150,0.148,0.147,0.146,0.147,0.148, 0.150,0.150,0.149,0.148,0.147,0.147,0.148, 0.149,0.150,0.152,0.153,0.154,0.154,0.154, 0.153,0.152,0.152,0.152,0.152,0.153,0.153, 0.152,0.152,0.152,0.151,0.150,0.150,0.150];
const bb_r25 = [0.193,0.193,0.194,0.195,0.196,0.196,0.195, 0.195,0.196,0.198,0.198,0.196,0.195,0.193, 0.190,0.190,0.190,0.190,0.190,0.191,0.192, 0.193,0.192,0.191,0.190,0.190,0.190,0.189, 0.188,0.188,0.188,0.188,0.188,0.188,0.187, 0.187,0.187,0.186,0.186,0.185,0.185,0.185];
const bb_r50 = [0.217,0.216,0.218,0.220,0.218,0.217,0.215, 0.210,0.215,0.220,0.221,0.221,0.219,0.217, 0.218,0.218,0.216,0.216,0.215,0.215,0.215, 0.215,0.214,0.214,0.216,0.216,0.215,0.219, 0.215,0.213,0.212,0.210,0.210,0.210,0.210, 0.212,0.213,0.211,0.212,0.212,0.212,0.212];
const bb_r75 = [0.245,0.245,0.244,0.244,0.244,0.245,0.245, 0.246,0.245,0.244,0.243,0.243,0.244,0.245, 0.245,0.246,0.247,0.245,0.240,0.245,0.250, 0.247,0.245,0.243,0.242,0.241,0.242,0.243, 0.244,0.245,0.245,0.243,0.242,0.241,0.240, 0.240,0.240,0.240,0.241,0.241,0.240,0.240];
const bb_r95 = [0.300,0.298,0.297,0.297,0.297,0.297,0.297, 0.297,0.297,0.300,0.300,0.292,0.290,0.292, 0.295,0.302,0.305,0.310,0.300,0.315,0.305, 0.300,0.302,0.300,0.296,0.298,0.300,0.295, 0.297,0.295,0.300,0.305,0.310,0.295,0.290, 0.285,0.285,0.280,0.285,0.305,0.307,0.307];
const bb_g25 = [0.195,0.193,0.192,0.190,0.188,0.185,0.182, 0.180,0.177,0.175,0.172,0.168,0.165,0.162, 0.160,0.158,0.157,0.156,0.155,0.155,0.154, 0.152,0.150,0.148,0.145,0.142,0.138,0.132, 0.128,0.130,0.135,0.138,0.135,0.130,0.128, 0.135,0.140,0.138,0.135,0.138,0.142,0.143];
const bb_g50 = [0.217,0.215,0.218,0.218,0.217,0.215,0.216, 0.216,0.216,0.215,0.206,0.203,0.204,0.205, 0.210,0.204,0.205,0.202,0.200,0.199,0.196, 0.197,0.193,0.192,0.191,0.190,0.192,0.193, 0.186,0.183,0.190,0.194,0.193,0.192,0.190, 0.190,0.189,0.187,0.188,0.187,0.194,0.193];
const bb_g75 = [0.245,0.244,0.243,0.242,0.240,0.238,0.237, 0.236,0.237,0.238,0.238,0.237,0.236,0.235, 0.232,0.228,0.226,0.225,0.225,0.226,0.228, 0.228,0.227,0.226,0.225,0.225,0.226,0.227, 0.227,0.226,0.225,0.225,0.224,0.224,0.223, 0.222,0.223,0.224,0.225,0.230,0.238,0.245];

// bandpower ratio (gamma)
const bg_r05 = [0.026,0.027,0.028,0.0285,0.029,0.0285,0.028, 0.0275,0.028,0.0275,0.028,0.0285,0.029,0.029, 0.0285,0.028,0.0275,0.028,0.0285,0.028,0.0278, 0.028,0.029,0.0295,0.029,0.0285,0.028,0.0275, 0.028,0.0285,0.029,0.0288,0.0285,0.028,0.0275, 0.028,0.0285,0.0285,0.028,0.0275,0.027,0.0265];
const bg_r25 = [0.036,0.0355,0.0358,0.036,0.036,0.036,0.0355, 0.0355,0.0355,0.035,0.035,0.0355,0.036,0.036, 0.0355,0.035,0.035,0.035,0.0345,0.0345,0.035, 0.035,0.035,0.0345,0.034,0.0335,0.034,0.034, 0.0335,0.033,0.0335,0.034,0.034,0.0335,0.0335, 0.034,0.034,0.034,0.0335,0.0335,0.034,0.0335];
const bg_r50 = [0.043,0.0435,0.044,0.0445,0.0445,0.0445,0.0443, 0.044,0.044,0.0435,0.043,0.043,0.0425,0.042, 0.042,0.042,0.0425,0.043,0.0435,0.0445,0.043, 0.042,0.0425,0.0435,0.044,0.0445,0.045,0.045, 0.0452,0.0455,0.0455,0.046,0.0455,0.0445,0.044, 0.0437,0.0435,0.0435,0.0435,0.0435,0.0435,0.0433];
const bg_r75 = [0.058,0.059,0.058,0.057,0.057,0.059,0.058, 0.060,0.058,0.059,0.057,0.056,0.057,0.057, 0.055,0.056,0.058,0.060,0.057,0.058,0.059, 0.058,0.057,0.058,0.059,0.060,0.062,0.063, 0.061,0.058,0.059,0.058,0.058,0.059,0.060, 0.058,0.057,0.058,0.057,0.058,0.058,0.057];
const bg_r95 = [0.075,0.077,0.079,0.079,0.079,0.080,0.079, 0.080,0.080,0.081,0.079,0.077,0.077,0.078, 0.079,0.081,0.082,0.081,0.080,0.081,0.082, 0.082,0.082,0.082,0.082,0.081,0.080,0.078, 0.076,0.074,0.073,0.072,0.071,0.070,0.074, 0.078,0.080,0.076,0.072,0.075,0.075,0.075];
const bg_g25 = [0.037,0.037,0.0365,0.036,0.0358,0.0355,0.035, 0.035,0.0348,0.0345,0.034,0.0338,0.0335,0.0333, 0.033,0.0325,0.032,0.0318,0.0315,0.031,0.0305, 0.030,0.0295,0.029,0.0285,0.028,0.027,0.026, 0.025,0.0245,0.024,0.0255,0.025,0.024,0.025, 0.026,0.0255,0.024,0.025,0.025,0.024,0.0235];
const bg_g50 = [0.043,0.0435,0.044,0.0445,0.0445,0.0445,0.0445, 0.044,0.044,0.044,0.0435,0.043,0.0425,0.042, 0.0415,0.0405,0.0405,0.042,0.041,0.040,0.039, 0.039,0.0405,0.0405,0.040,0.0395,0.0395,0.0385, 0.0385,0.038,0.037,0.0365,0.036,0.0365,0.036, 0.0385,0.0375,0.0365,0.0365,0.037,0.0375,0.037];
const bg_g75 = [0.051,0.051,0.052,0.052,0.051,0.051,0.051, 0.050,0.050,0.051,0.052,0.051,0.050,0.049, 0.049,0.050,0.050,0.049,0.048,0.048,0.049, 0.049,0.049,0.048,0.048,0.049,0.049,0.048, 0.048,0.048,0.048,0.048,0.047,0.047,0.048, 0.048,0.048,0.048,0.048,0.049,0.050,0.050];

// tick labels
const ticksOut = [0.0,0.2,0.4,0.6,0.8,1.0];
const ticksIqr = [0.8,1.0,1.2,1.4,1.6,1.8];
const ticksSc = [0.16,0.18,0.20,0.22,0.24,0.26,0.28,0.30];
const ticksOf = [1.1,1.2,1.3,1.4,1.5,1.6,1.7];
const ticksDfa = [0.65,0.70,0.75,0.80,0.85,0.90,0.95];
const ticksHu = [0.00,0.01,0.02,0.03,0.04,0.05,0.06];
const ticksAk = [0.5,1.0,1.5,2.0,2.5,3.0];
const ticksAt = [0.006,0.008,0.010,0.012,0.014];
const ticksCe = [0.550,0.575,0.600,0.625,0.650,0.675,0.700,0.725];
const ticksCt = [0.15,0.20,0.25,0.30,0.35,0.40];
const ticksPe = [0.700,0.725,0.750,0.775,0.800,0.825,0.850,0.875];
const ticksPc = [7,8,9,10,11,12];
const ticksBd = [0.15,0.20,0.25,0.30,0.35];
const ticksBt = [0.10,0.12,0.14,0.16,0.18,0.20];
const ticksBa = [0.10,0.15,0.20,0.25,0.30,0.35];
const ticksBb = [0.125,0.150,0.175,0.200,0.225,0.250,0.275,0.300];
const ticksBg = [0.02,0.03,0.04,0.05,0.06,0.07,0.08];

const panels = [
  {title:'Out-of-envelope rate (mean)', ymin:0, ymax:1, ticks:ticksOut, dec:1, line:outRate, color:'#d1495b', yname:'Fraction outside'},
  {title:'IQR(gen)/IQR(real) mean', ymin:0.757, ymax:1.902, ticks:ticksIqr, dec:1, line:iqrRatio, color:'#2e8b57', yname:'IQR ratio'},
  {title:'spatial connectivity', ymin:0.1528, ymax:0.3032, ticks:ticksSc, dec:2, b:[sc_r05,sc_r25,sc_r50,sc_r75,sc_r95,sc_g25,sc_g50,sc_g75]},
  {title:'one over f exponent', ymin:1.089, ymax:1.758, ticks:ticksOf, dec:1, b:[of_r05,of_r25,of_r50,of_r75,of_r95,of_g25,of_g50,of_g75]},
  {title:'dfa exponent', ymin:0.6163, ymax:0.9806, ticks:ticksDfa, dec:2, b:[dfa_r05,dfa_r25,dfa_r50,dfa_r75,dfa_r95,dfa_g25,dfa_g50,dfa_g75]},
  {title:'hurst exponent', ymin:-0.0034, ymax:0.0699, ticks:ticksHu, dec:2, b:[hu_r05,hu_r25,hu_r50,hu_r75,hu_r95,hu_g25,hu_g50,hu_g75]},
  {title:'amplitude kurtosis', ymin:0.177, ymax:3.351, ticks:ticksAk, dec:1, b:[ak_r05,ak_r25,ak_r50,ak_r75,ak_r95,ak_g25,ak_g50,ak_g75]},
  {title:'amplitude tail fraction', ymin:0.00405, ymax:0.01592, ticks:ticksAt, dec:3, b:[at_r05,at_r25,at_r50,at_r75,at_r95,at_g25,at_g50,at_g75]},
  {title:'cov eig entropy', ymin:0.5363, ymax:0.7447, ticks:ticksCe, dec:3, b:[ce_r05,ce_r25,ce_r50,ce_r75,ce_r95,ce_g25,ce_g50,ce_g75]},
  {title:'cov eig top frac', ymin:0.139, ymax:0.4206, ticks:ticksCt, dec:2, b:[ct_r05,ct_r25,ct_r50,ct_r75,ct_r95,ct_g25,ct_g50,ct_g75]},
  {title:'psd entropy', ymin:0.6757, ymax:0.8824, ticks:ticksPe, dec:3, b:[pe_r05,pe_r25,pe_r50,pe_r75,pe_r95,pe_g25,pe_g50,pe_g75]},
  {title:'psd centroid', ymin:6.12, ymax:12.64, ticks:ticksPc, dec:0, b:[pc_r05,pc_r25,pc_r50,pc_r75,pc_r95,pc_g25,pc_g50,pc_g75]},
  {title:'bandpower ratio (delta)', ymin:0.1347, ymax:0.3884, ticks:ticksBd, dec:2, b:[bd_r05,bd_r25,bd_r50,bd_r75,bd_r95,bd_g25,bd_g50,bd_g75]},
  {title:'bandpower ratio (theta)', ymin:0.0885, ymax:0.2083, ticks:ticksBt, dec:2, b:[bt_r05,bt_r25,bt_r50,bt_r75,bt_r95,bt_g25,bt_g50,bt_g75]},
  {title:'bandpower ratio (alpha)', ymin:0.090, ymax:0.3699, ticks:ticksBa, dec:2, b:[ba_r05,ba_r25,ba_r50,ba_r75,ba_r95,ba_g25,ba_g50,ba_g75]},
  {title:'bandpower ratio (beta)', ymin:0.1187, ymax:0.3246, ticks:ticksBb, dec:3, b:[bb_r05,bb_r25,bb_r50,bb_r75,bb_r95,bb_g25,bb_g50,bb_g75]},
  {title:'bandpower ratio (gamma)', ymin:0.0198, ymax:0.0859, ticks:ticksBg, dec:2, b:[bg_r05,bg_r25,bg_r50,bg_r75,bg_r95,bg_g25,bg_g50,bg_g75]}
];

const FONT = 'DejaVu Serif';
const INK = '#222222';
const C_R95 = 'rgba(128,128,128,0.2)';
const C_R75 = 'rgba(128,128,128,0.45)';
const C_G = 'rgba(31,119,180,0.25)';
const C_GEN = '#1f77b4';
const C_RMED = '#555555';

const option = {animation:false, backgroundColor:'#ffffff', textStyle:{fontFamily:FONT},
  grid:[], xAxis:[], yAxis:[], title:[], series:[], graphic:[]};

function pts(arr){ return times.map((t,j)=>[t, arr[j]]); }
// filled band between two percentile curves, projected through the axes with api.coord
function band(gi, lo, hi, color){
  return {type:'custom', xAxisIndex:gi, yAxisIndex:gi, silent:true, clip:true,
    data:[[times[0], lo[0]]],
    renderItem:(params, api)=>{
      const poly = [];
      for (let j=0;j<times.length;j++) poly.push(api.coord([times[j], hi[j]]));
      for (let j=times.length-1;j>=0;j--) poly.push(api.coord([times[j], lo[j]]));
      return {type:'polygon', shape:{points:poly}, style:{fill:color, stroke:null}};
    }};
}

panels.forEach((p,i)=>{
  const row = Math.floor(i/5), col = i%5;
  const left = 35 + col*181.2, top = 101 + row*252;
  const bottom = i >= 15;
  option.grid.push({left:left, top:top, width:145, height:187, show:true, borderColor:INK, borderWidth:0.8, backgroundColor:'transparent'});
  option.xAxis.push({type:'value', gridIndex:i, min:19.75, max:245.25,
    axisLine:{show:true, onZero:false, lineStyle:{color:INK, width:0.8}},
    axisTick:{show:true, length:3.5, customValues:xTicks, lineStyle:{color:INK, width:0.8}},
    axisLabel:{show:bottom, customValues:xTicks, fontSize:8.5, color:INK, margin:5, fontFamily:FONT},
    splitLine:{show:false},
    name: bottom ? 'Rollout time (s)' : '', nameLocation:'middle', nameGap:18,
    nameTextStyle:{fontSize:8.5, color:INK, fontFamily:FONT}});
  option.yAxis.push({type:'value', gridIndex:i, min:p.ymin, max:p.ymax,
    axisLine:{show:true, onZero:false, lineStyle:{color:INK, width:0.8}},
    axisTick:{show:true, length:3.5, customValues:p.ticks, lineStyle:{color:INK, width:0.8}},
    axisLabel:{customValues:p.ticks, formatter:(v)=>Number(v).toFixed(p.dec), fontSize:8.3, color:INK, margin:5.5, fontFamily:FONT},
    splitLine:{show:false},
    name: p.yname || '', nameLocation:'middle', nameGap:25,
    nameTextStyle:{fontSize:8.5, color:INK, fontFamily:FONT}});
  option.title.push({text:p.title, left:left, top:top-15, padding:0,
    textStyle:{fontSize:10.4, fontWeight:'normal', color:INK, fontFamily:FONT}});
  if (p.line) {
    option.series.push({type:'line', xAxisIndex:i, yAxisIndex:i, data:pts(p.line), symbol:'none', silent:true, lineStyle:{color:p.color, width:2}});
  } else {
    const [r05,r25,r50,r75,r95,g25,g50,g75] = p.b;
    option.series.push(band(i, r05, r95, C_R95));
    option.series.push(band(i, r25, r75, C_R75));
    option.series.push(band(i, g25, g75, C_G));
    option.series.push({type:'line', xAxisIndex:i, yAxisIndex:i, data:pts(r50), symbol:'none', silent:true, lineStyle:{color:C_RMED, width:1.5, type:[5,2.2]}});
    option.series.push({type:'line', xAxisIndex:i, yAxisIndex:i, data:pts(g50), symbol:'none', silent:true, lineStyle:{color:C_GEN, width:2}});
  }
});

// legend (drawn as graphic elements)
const legRows = [7, 20.3, 33.3];
const legText = (x, y, s) => ({type:'text', x:x, y:y, style:{text:s, fill:INK, fontSize:8.3, fontFamily:FONT, verticalAlign:'middle', align:'left'}});
option.graphic = [
  {type:'rect', shape:{x:277.5, y:legRows[0]-2.9, width:19.5, height:5.8}, style:{fill:C_R95}},
  legText(304, legRows[0], 'Real 5–95%'),
  {type:'rect', shape:{x:277.5, y:legRows[1]-2.9, width:19.5, height:5.8}, style:{fill:C_R75}},
  legText(304, legRows[1], 'Real 25–75%'),
  {type:'line', shape:{x1:277.5, y1:legRows[2], x2:297, y2:legRows[2]}, style:{stroke:C_RMED, lineWidth:1.5, lineDash:[5,2.2]}},
  legText(304, legRows[2], 'Real median'),
  {type:'line', shape:{x1:369.5, y1:legRows[0], x2:389, y2:legRows[0]}, style:{stroke:C_GEN, lineWidth:2}},
  legText(397, legRows[0], 'Generated median'),
  {type:'rect', shape:{x:369.5, y:legRows[1]-2.9, width:19.5, height:5.8}, style:{fill:C_G}},
  legText(397, legRows[1], 'Generated 25–75%'),
  {type:'line', shape:{x1:488.5, y1:legRows[0], x2:508, y2:legRows[0]}, style:{stroke:'#d1495b', lineWidth:2}},
  legText(516, legRows[0], 'Out-of-envelope rate (mean)'),
  {type:'line', shape:{x1:488.5, y1:legRows[1], x2:508, y2:legRows[1]}, style:{stroke:'#2e8b57', lineWidth:2}},
  legText(516, legRows[1], 'IQR(gen)/IQR(real) mean')
];

const chart = echarts.init(document.getElementById('c'), null, {renderer:'canvas', width:907, height:1074});
chart.setOption(option);
</script>
</body></html>
